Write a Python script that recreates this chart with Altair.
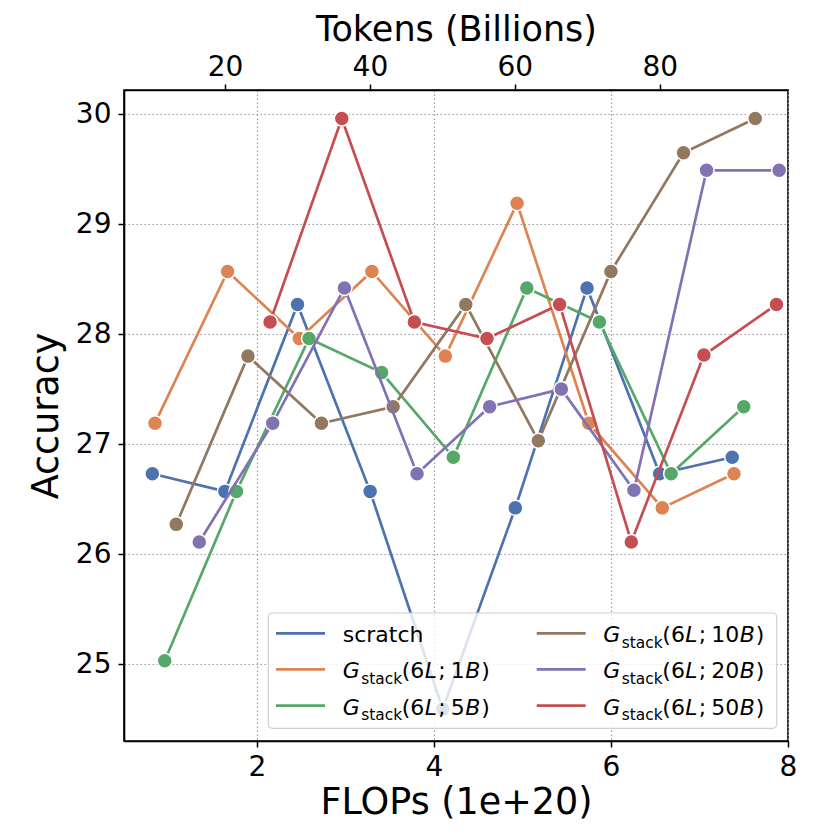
import altair as alt
import pandas as pd

# ---------------- data ----------------
series_names = ["scratch", "G1", "G5", "G10", "G20", "G50"]
series_colors = ["#4C72B0", "#DD8452", "#55A868", "#937860", "#8172B3", "#C44E52"]

scratch_x = [0.82, 1.64, 2.46, 3.28, 4.10, 4.92, 5.73, 6.55, 7.37]
scratch_y = [26.73, 26.57, 28.27, 26.57, 24.59, 26.42, 28.42, 26.73, 26.88]

g1_x = [0.85, 1.67, 2.48, 3.30, 4.13, 4.94, 5.75, 6.58, 7.39]
g1_y = [27.19, 28.57, 27.96, 28.57, 27.80, 29.19, 27.19, 26.42, 26.73]

g5_x = [0.96, 1.77, 2.59, 3.41, 4.22, 5.05, 5.87, 6.68, 7.50]
g5_y = [25.03, 26.57, 27.96, 27.65, 26.88, 28.42, 28.11, 26.73, 27.34]

g10_x = [1.09, 1.90, 2.73, 3.54, 4.36, 5.18, 6.00, 6.82, 7.63]
g10_y = [26.27, 27.80, 27.19, 27.34, 28.27, 27.03, 28.57, 29.65, 29.96]

g20_x = [1.35, 2.18, 2.99, 3.81, 4.63, 5.44, 6.26, 7.08, 7.90]
g20_y = [26.11, 27.19, 28.42, 26.73, 27.34, 27.50, 26.58, 29.49, 29.49]

g50_x = [2.15, 2.96, 3.78, 4.60, 5.42, 6.23, 7.05, 7.87]
g50_y = [28.11, 29.96, 28.11, 27.96, 28.27, 26.11, 27.81, 28.27]

tokens = [10, 20, 30, 40, 50, 60, 70, 80, 90]

x_ticks = [2, 4, 6, 8]
y_ticks = [25, 26, 27, 28, 29, 30]
tok_ticks = [20, 40, 60, 80]

all_x = [scratch_x, g1_x, g5_x, g10_x, g20_x, g50_x]
all_y = [scratch_y, g1_y, g5_y, g10_y, g20_y, g50_y]

rows = []
for name, xs, ys in zip(series_names, all_x, all_y):
    for xv, yv in zip(xs, ys):
        rows.append({"series": name, "flops": xv, "acc": yv})
df = pd.DataFrame(rows)
tok_df = pd.DataFrame({"tokens": tokens})

# ---------------- layout ----------------
FONT = "DejaVu Sans"
OX, OY = 124, 90          # plot origin on the page
W = 664
BOTTOM = 741
H = BOTTOM - OY
PAD = {"left": OX - 8, "top": OY - 8, "right": 830 - 8 - OX - W, "bottom": 822 - BOTTOM}

xscale = alt.Scale(domain=[0.5, 8.0], nice=False, zero=False)
yscale = alt.Scale(domain=[24.3, 30.22], nice=False, zero=False)
tscale = alt.Scale(domain=[6.07, 97.7], nice=False, zero=False)

x_axis = alt.Axis(values=x_ticks, format="d", title="FLOPs (1e+20)", grid=True,
                  titleX=W / 2, titleY=813 - BOTTOM, titleBaseline="alphabetic",
                  labelPadding=6, labelFlush=False)
y_axis = alt.Axis(values=y_ticks, format="d", title="Accuracy", grid=True,
                  titleX=-67, titleY=H / 2, titleAngle=270,
                  titleBaseline="alphabetic", labelPadding=7)
t_axis = alt.Axis(orient="top", values=tok_ticks, format="d", grid=False,
                  title="Tokens (Billions)", titleX=W / 2, titleY=40.5 - OY,
                  titleFontSize=35, titleBaseline="alphabetic",
                  labelPadding=3, labelFlush=False)

base = alt.Chart(df)
series_layers = []
for name, col in zip(series_names, series_colors):
    sub = base.transform_filter(alt.datum.series == name)
    enc = dict(x=alt.X("flops:Q", scale=xscale, axis=x_axis),
               y=alt.Y("acc:Q", scale=yscale, axis=y_axis))
    series_layers.append(sub.mark_line(strokeWidth=2.7, color=col).encode(**enc))
    series_layers.append(
        sub.mark_circle(size=225, color=col, opacity=1, stroke="white",
                        strokeWidth=1.5).encode(**enc))
data_layer = alt.layer(*series_layers)

top_layer = alt.Chart(tok_df).mark_point(opacity=0).encode(
    x=alt.X("tokens:Q", scale=tscale, axis=t_axis),
    y=alt.value(0),
)

# ---------------- custom legend (mathtext-like labels) ----------------
one = pd.DataFrame({"k": [0]})
LY = BOTTOM - 747  # legend anchored to the bottom of the plot
leg = []
leg.append(alt.Chart(one).mark_rect(fill="white", fillOpacity=0.8, stroke="#d0d0d0",
                                    strokeWidth=1.2, cornerRadius=4).encode(
    x=alt.value(268.3 - OX), x2=alt.value(776.7 - OX),
    y=alt.value(619 + LY - OY), y2=alt.value(734.3 + LY - OY)))

col_line_x = [(276 - OX, 325 - OX), (536.7 - OX, 585.7 - OX)]
col_text_x = [342.7 - OX, 603.3 - OX]
row_center = [639.3 + LY - OY, 675.3 + LY - OY, 711.7 + LY - OY]
legend_tags = ["", "1", "5", "10", "20", "50"]

def text_layer(s, x, y, size=22, style="normal"):
    return alt.Chart(one).mark_text(text=s, font=FONT, fontSize=size, fontStyle=style,
                                    align="left", baseline="alphabetic",
                                    color="black").encode(
        x=alt.value(x), y=alt.value(y))

for i, (name, col) in enumerate(zip(series_names, series_colors)):
    c, r = divmod(i, 3)
    yc = row_center[r]
    x1, x2 = col_line_x[c]
    leg.append(alt.Chart(one).mark_rule(strokeWidth=2.7, color=col).encode(
        x=alt.value(x1), x2=alt.value(x2), y=alt.value(yc)))
    tx = col_text_x[c]
    yb = yc + 9
    if name == "scratch":
        leg.append(text_layer("scratch", tx, yb))
        continue
    tag = legend_tags[i]
    leg.append(text_layer("G", tx, yb, style="italic"))
    leg.append(text_layer("stack", tx + 18.5, yb + 5.3, size=15.4))
    leg.append(text_layer("(6", tx + 59, yb))
    leg.append(text_layer("L", tx + 82, yb, style="italic"))
    leg.append(text_layer(";", tx + 95.5, yb))
    leg.append(text_layer(tag, tx + 108, yb))
    bx = tx + 108 + 14.0 * len(tag) + 0.5
    leg.append(text_layer("B", bx, yb, style="italic"))
    leg.append(text_layer(")", bx + 16, yb))

chart = alt.layer(data_layer, top_layer, *leg).resolve_scale(x="independent").properties(
    width=W, height=H,
    autosize=alt.AutoSizeParams(type="none"),
    padding=PAD,
).configure_axis(
    labelFont=FONT, labelFontSize=28, labelColor="black",
    titleFont=FONT, titleFontSize=36.5, titleFontWeight="normal", titleColor="black",
    domainColor="black", domainWidth=1.6,
    tickColor="black", tickWidth=1.5, tickSize=6,
    gridColor="#999999", gridDash=[1.5, 2.5], gridWidth=1.2, gridOpacity=1,
).configure_view(stroke="black", strokeWidth=1.6)

chart.save("out.html", embed_options={"renderer": "svg", "actions": False})
